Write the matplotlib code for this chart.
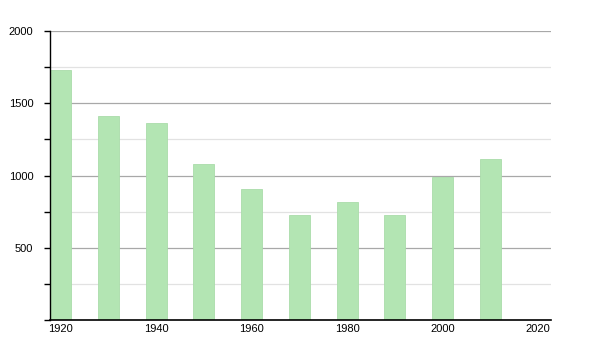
import numpy as np
import matplotlib.pyplot as plt
from matplotlib.ticker import MultipleLocator

years = [1920, 1930, 1940, 1950, 1960, 1970, 1980, 1990, 2000, 2010]
population = [1732, 1411, 1363, 1080, 910, 729, 818, 729, 987, 1112]
xticks = [1920, 1940, 1960, 1980, 2000, 2020]

plt.rcParams['font.family'] = ['Liberation Sans', 'DejaVu Sans']

fig = plt.figure(figsize=(6, 3.5), dpi=100)
ax = fig.add_axes([50 / 600, 30 / 350, 501 / 600, 289 / 350])

ax.bar(years, population, width=4.4, color='#b3e5b3', edgecolor='#aadcaa',
       linewidth=0.6, zorder=2)

ax.set_xlim(1917.8, 2022.7)
ax.set_ylim(0, 2000)
ax.set_xticks(xticks)
ax.set_yticks([500, 1000, 1500, 2000])
ax.yaxis.set_minor_locator(MultipleLocator(250))

ax.grid(axis='y', which='major', color='#a8a8a8', linewidth=0.9, zorder=0)
ax.grid(axis='y', which='minor', color='#e2e2e2', linewidth=0.9, zorder=0)

for s in ['top', 'right']:
    ax.spines[s].set_visible(False)
ax.spines['left'].set_linewidth(1.0)
ax.spines['bottom'].set_linewidth(1.2)

ax.tick_params(axis='y', which='both', length=4, width=1, labelsize=8, pad=8)
ax.tick_params(axis='x', length=0, labelsize=8, pad=3)

fig.savefig('out.png', dpi=100)
